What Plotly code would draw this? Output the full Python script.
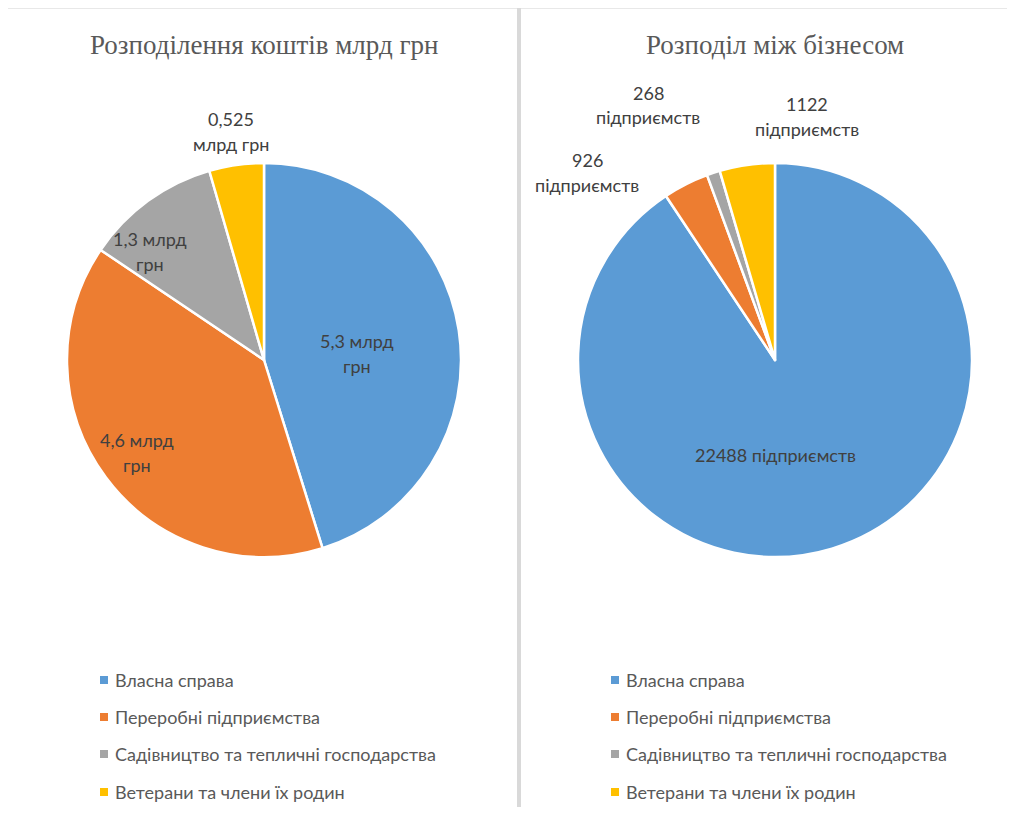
import plotly.graph_objects as go

VW, VH = 1015, 815
OFF = 8  # default page body margin
W, H = VW - 2 * OFF, VH - 2 * OFF

categories = ["Власна справа", "Переробні підприємства",
              "Садівництво та тепличні господарства", "Ветерани та члени їх родин"]
funds_bn = [5.3, 4.6, 1.3, 0.525]
funds_labels = ["5,3 млрд\nгрн", "4,6 млрд\nгрн", "1,3 млрд\nгрн", "0,525\nмлрд грн"]
businesses = [22488, 926, 268, 1122]
business_labels = ["22488 підприємств", "926\nпідприємств", "268\nпідприємств", "1122\nпідприємств"]
colors = ["#5B9BD5", "#ED7D31", "#A5A5A5", "#FFC000"]
titles = ["Розподілення коштів млрд грн", "Розподіл між бізнесом"]

LABEL_FONT = "Lato"

def px(x):
    return (x - OFF) / W

def py(y):
    return 1 - (y - OFF) / H

fig = go.Figure()
domains = [dict(x=[px(67), px(461)], y=[py(557), py(163)]),
           dict(x=[px(578), px(972)], y=[py(557), py(163)])]
for vals, dom in zip([funds_bn, businesses], domains):
    fig.add_trace(go.Pie(labels=categories, values=vals, domain=dom, sort=False,
                         direction="clockwise", rotation=0, textinfo="none",
                         marker=dict(colors=colors, line=dict(color="white", width=2.5)),
                         showlegend=False))

ann = []
for t, cx in zip(titles, [264, 775]):
    ann.append(dict(text=t, x=px(cx), y=py(45), xref="paper", yref="paper", showarrow=False,
                    xanchor="center", yanchor="middle",
                    font=dict(family="Liberation Serif", size=27, color="#595959")))

label_pos_left = [(357, 341), (137, 440), (150, 239), (231, 119)]
label_pos_right = [(775, 455), (587, 160), (648, 93), (807, 104)]
for labels, pos in [(funds_labels, label_pos_left), (business_labels, label_pos_right)]:
    for lab, (cx, cy) in zip(labels, pos):
        for i, line in enumerate(lab.split("\n")):
            ann.append(dict(text=line, x=px(cx), y=py(cy + i * 24.5), xref="paper", yref="paper",
                            showarrow=False, xanchor="center", yanchor="middle",
                            font=dict(family=LABEL_FONT, size=18, color="#404040")))

shapes = []
leg_y = [680, 717, 754, 792]
for mx in [100, 611]:
    for cat, col, ly in zip(categories, colors, leg_y):
        shapes.append(dict(type="rect", xref="paper", yref="paper",
                           x0=px(mx), x1=px(mx + 8), y0=py(ly + 4), y1=py(ly - 4),
                           fillcolor=col, line=dict(width=0)))
        ann.append(dict(text=cat, x=px(mx + 13), y=py(ly), xref="paper", yref="paper",
                        showarrow=False, xanchor="left", yanchor="middle",
                        font=dict(family=LABEL_FONT, size=18, color="#595959")))

shapes.append(dict(type="line", xref="paper", yref="paper", x0=0, x1=1, y0=py(8.5), y1=py(8.5),
                   line=dict(color="#e8e8e8", width=1)))
shapes.append(dict(type="rect", xref="paper", yref="paper", x0=px(517), x1=px(521),
                   y0=0, y1=py(8), fillcolor="#d9d9d9", line=dict(width=0)))

fig.update_layout(width=W, height=H, margin=dict(l=0, r=0, t=0, b=0),
                  paper_bgcolor="white", plot_bgcolor="white",
                  annotations=ann, shapes=shapes)
fig.write_html("out.html")
